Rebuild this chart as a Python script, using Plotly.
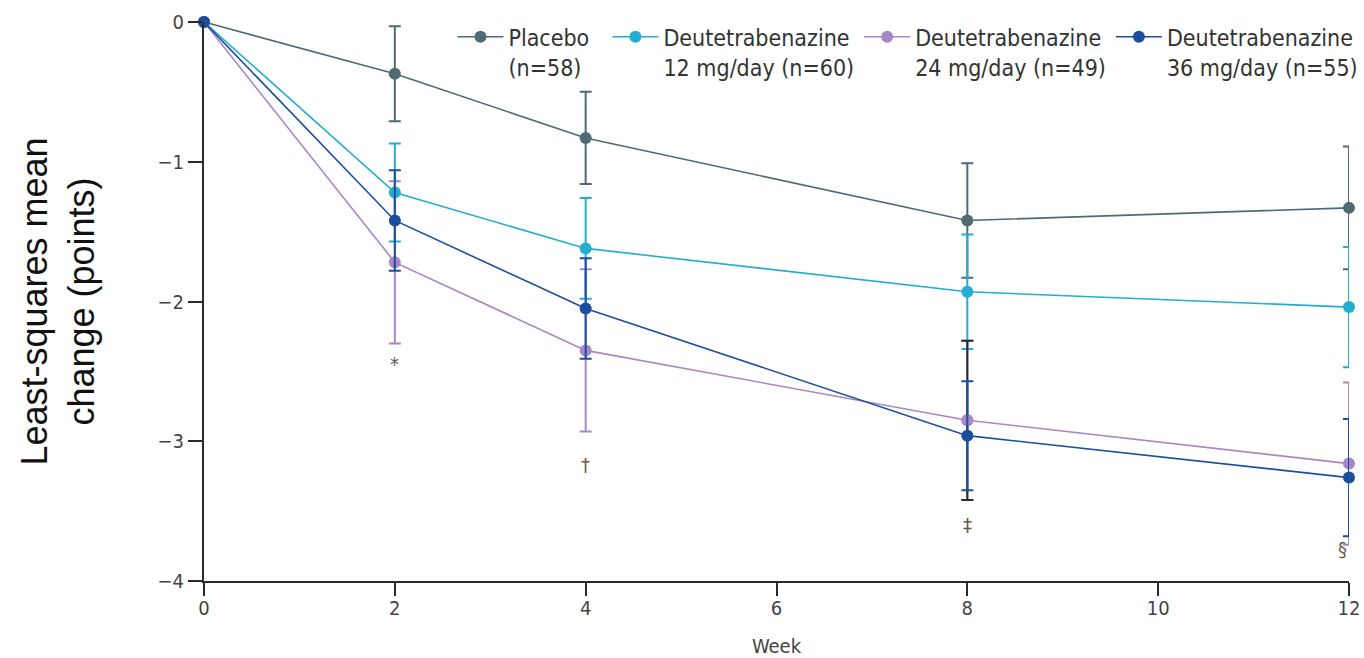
import plotly.graph_objects as go

weeks = [0, 2, 4, 8, 12]

placebo = [0, -0.37, -0.83, -1.42, -1.33]
placebo_err = [0, 0.34, 0.33, 0.41, 0.44]

d12 = [0, -1.22, -1.62, -1.93, -2.04]
d12_err = [0, 0.35, 0.36, 0.41, 0.43]

d24 = [0, -1.72, -2.35, -2.85, -3.16]
d24_err = [0, 0.58, 0.58, 0.57, 0.58]

d36 = [0, -1.42, -2.05, -2.96, -3.26]
d36_err = [0, 0.36, 0.36, 0.39, 0.42]

series_names = [
    "Placebo&nbsp;&nbsp;<br>(n=58)",
    "Deutetrabenazine<br>12 mg/day (n=60)",
    "Deutetrabenazine<br>24 mg/day (n=49)",
    "Deutetrabenazine<br>36 mg/day (n=55)",
]
colors = ["#4f6a72", "#22aed0", "#a887c6", "#1b4f9e"]

sig_weeks = [2, 4, 8, 11.93]
sig_y = [-2.45, -3.17, -3.6, -3.77]
sig_marks = ["*", "†", "‡", "§"]

cond_font = "DejaVu Sans Condensed, Liberation Sans Narrow, Roboto Condensed, Arial Narrow, sans-serif"

fig = go.Figure()
all_y = [placebo, d12, d24, d36]
all_e = [placebo_err, d12_err, d24_err, d36_err]
for i, (ys, es) in enumerate(zip(all_y, all_e)):
    fig.add_trace(go.Scatter(
        x=weeks, y=ys, name=series_names[i], mode="lines+markers",
        line=dict(color=colors[i], width=1.6),
        marker=dict(color=colors[i], size=12),
        error_y=dict(type="data", array=es, visible=True, color=colors[i],
                     thickness=2, width=6),
        cliponaxis=False,
    ))
    if i == 2:
        # the week-8 bar of the 24 mg/day arm is drawn in black in the source figure
        fig.add_trace(go.Scatter(
            x=[weeks[3]], y=[d24[3]], mode="markers", showlegend=False,
            marker=dict(color=colors[2], size=12),
            error_y=dict(type="data", array=[d24_err[3]], visible=True,
                         color="#2b2b2b", thickness=2, width=6),
            cliponaxis=False, hoverinfo="skip",
        ))

for xw, yv, t in zip(sig_weeks, sig_y, sig_marks):
    fig.add_annotation(x=xw, y=yv, text=t, showarrow=False,
                       font=dict(family=cond_font, size=20, color="#6b5a48"))

fig.update_layout(
    width=1364, height=658,
    margin=dict(l=204, r=15, t=22, b=77, autoexpand=False),
    plot_bgcolor="white", paper_bgcolor="white",
    showlegend=True,
    legend=dict(
        orientation="h", x=0.217, y=1.012, xanchor="left", yanchor="top",
        font=dict(family=cond_font, size=23, color="#333"),
        valign="top", bgcolor="rgba(0,0,0,0)", itemwidth=46,
    ),
    xaxis=dict(
        range=[0, 12], tickvals=[0, 2, 4, 6, 8, 10, 12],
        showgrid=False, zeroline=False, showline=True,
        linecolor="#2a2a2a", linewidth=2,
        ticks="outside", ticklen=13, tickwidth=2, tickcolor="#2a2a2a",
        ticklabelstandoff=-5,
        tickfont=dict(family=cond_font, size=20, color="#444"),
        title=dict(text="Week", font=dict(family=cond_font, size=20, color="#444"), standoff=20),
        automargin=False,
    ),
    yaxis=dict(
        range=[-4, 0], tickvals=[0, -1, -2, -3, -4],
        ticktext=["0", "−1", "−2", "−3", "−4"],
        showgrid=False, zeroline=False, showline=True,
        linecolor="#2a2a2a", linewidth=2,
        ticks="outside", ticklen=14, tickwidth=2, tickcolor="#2a2a2a",
        tickfont=dict(family=cond_font, size=20, color="#444"),
        title=dict(text="Least-squares mean<br>change (points)",
                   font=dict(family="Liberation Sans, Arial, sans-serif", size=36, color="#111"),
                   standoff=52),
        automargin=False,
    ),
)

fig.write_html(
    "out.html",
    config={"displayModeBar": False},
    post_script="document.body.style.margin='0';document.body.style.overflow='hidden';",
)
